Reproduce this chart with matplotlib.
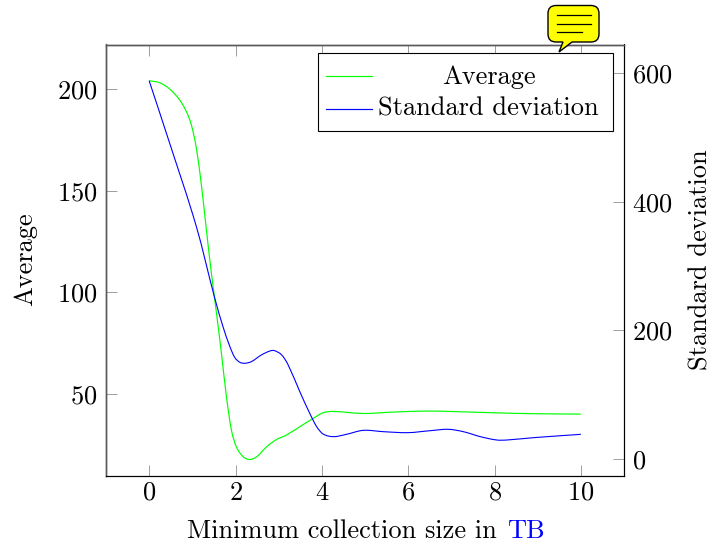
import matplotlib
matplotlib.use("Agg")
import matplotlib.pyplot as plt
from matplotlib.lines import Line2D
from matplotlib.patches import PathPatch, Rectangle
from matplotlib.path import Path

plt.rcParams["font.family"] = ["cmr10", "DejaVu Serif"]
plt.rcParams["axes.formatter.use_mathtext"] = True
plt.rcParams["axes.unicode_minus"] = False

# values
avg_x = [0.0, 0.244, 0.476, 0.708, 0.862, 0.978, 1.094, 1.21, 1.326, 1.442, 1.558, 1.675, 1.79,
         1.906, 2.02, 2.18, 2.33, 2.49, 2.72, 2.95, 3.18, 3.49, 3.8, 4.03, 4.27, 4.96, 5.66,
         6.43, 6.97, 7.98, 8.9, 10.0]
avg_y = [204.1, 203.1, 200.0, 194.6, 188.9, 182.3, 170.8, 152.8, 130.6, 109.3, 90.0, 69.9, 48.6,
         32.2, 24.0, 19.1, 17.8, 19.1, 24.0, 27.6, 29.8, 33.9, 38.0, 40.75, 41.4, 40.4, 41.1,
         41.6, 41.4, 40.75, 40.3, 40.1]
std_x = [0.0, 0.476, 1.094, 1.51, 1.71, 1.87, 1.98, 2.10, 2.22, 2.37, 2.6, 2.8, 2.9, 3.07, 3.22,
         3.49, 3.72, 3.88, 4.03, 4.27, 4.57, 4.96, 5.43, 6.0, 6.5, 6.93, 7.28, 7.67, 8.05, 8.29,
         8.9, 10.0]
std_y = [588.0, 490.7, 361.2, 252.5, 205.8, 174.8, 158.2, 150.4, 148.9, 151.5, 161.8, 168.0, 168.5,
         161.8, 146.3, 104.7, 71.0, 50.3, 38.9, 34.8, 38.4, 44.6, 42.5, 41.0, 44.0, 46.2, 42.5,
         34.8, 29.6, 29.6, 33.2, 38.4]
x_ticks = [0, 2, 4, 6, 8, 10]
left_ticks = [50, 100, 150, 200]
right_ticks = [0, 200, 400, 600]

W, H = 711, 547
FS = 19


def px(x, y):
    # pixel position in the image -> figure fraction
    return x / W, 1 - y / H


def smooth_path(xs, ys):
    # cubic segments through the read points, like "smooth" in pgfplots
    n = len(xs)
    m = []
    for i in range(n):
        a, b = max(i - 1, 0), min(i + 1, n - 1)
        m.append((ys[b] - ys[a]) / (xs[b] - xs[a]))
    verts = [(xs[0], ys[0])]
    codes = [Path.MOVETO]
    for i in range(n - 1):
        d = (xs[i + 1] - xs[i]) / 3
        verts += [(xs[i] + d, ys[i] + m[i] * d), (xs[i + 1] - d, ys[i + 1] - m[i + 1] * d),
                  (xs[i + 1], ys[i + 1])]
        codes += [Path.CURVE4] * 3
    return Path(verts, codes)


fig = plt.figure(figsize=(W / 100, H / 100), dpi=100)
ax = fig.add_axes([106 / W, 1 - 475.5 / H, 518 / W, 431 / H])
ax2 = ax.twinx()

ax.add_patch(PathPatch(smooth_path(avg_x, avg_y), fc="none", ec="#00ff00", lw=0.85))
ax2.add_patch(PathPatch(smooth_path(std_x, std_y), fc="none", ec="#0000ff", lw=0.8))

ax.set_xlim(-1, 11)
ax.set_ylim(9.9, 221.9)
ax2.set_ylim(-25.6, 644.4)

ax.set_xticks(x_ticks)
ax.set_yticks(left_ticks)
ax2.set_yticks(right_ticks)
ax.tick_params(axis="x", direction="in", top=True, length=8, width=0.7, color="0.62",
               labelsize=FS, pad=4)
ax.tick_params(axis="y", direction="in", length=8, width=0.7, color="0.62", labelsize=FS, pad=6)
ax2.tick_params(axis="y", direction="in", length=8, width=0.7, color="0.62", labelsize=FS, pad=6)
for a in (ax, ax2):
    for name, s in a.spines.items():
        s.set_linewidth(0.8)
        if name in ("left", "top"):
            s.set_color("0.35")
            s.set_linewidth(1.0)

# labels
fig.text(*px(25, 259), "Average", rotation=90, ha="center", va="center", fontsize=FS)
fig.text(*px(701, 260), "Standard deviation", rotation=90, ha="center", va="center", fontsize=FS)
fig.text(*px(187, 538), "Minimum collection size in", ha="left", va="baseline", fontsize=FS)
fig.text(*px(507, 538), "TB", ha="left", va="baseline", fontsize=FS, color="#0000ff")

# legend box
x0, y0 = px(318, 131)
x1, y1 = px(613, 53)
fig.add_artist(Rectangle((x0, y0), x1 - x0, y1 - y0, transform=fig.transFigure, fc="white",
                         ec="black", lw=0.8, zorder=5))
for color, yy in (("#00ff00", 75.5), ("#0000ff", 108.5)):
    fig.add_artist(Line2D([326 / W, 372 / W], [1 - yy / H] * 2, transform=fig.transFigure,
                          color=color, lw=0.85, zorder=6))
fig.text(*px(489, 84), "Average", ha="center", va="baseline", fontsize=FS, zorder=6)
fig.text(*px(378, 116), "Standard deviation", ha="left", va="baseline", fontsize=FS, zorder=6)

# yellow speech bubble on top
r = 8
L, R, T, B = 548, 599, 5.5, 42
verts = [(L + r, T), (R - r, T), (R, T), (R, T + r), (R, B - r), (R, B), (R - r, B), (572, B),
         (559, 52), (563, B), (L + r, B), (L, B), (L, B - r), (L, T + r), (L, T), (L + r, T),
         (L + r, T)]
codes = [Path.MOVETO, Path.LINETO, Path.CURVE3, Path.CURVE3, Path.LINETO, Path.CURVE3, Path.CURVE3,
         Path.LINETO, Path.LINETO, Path.LINETO, Path.LINETO, Path.CURVE3, Path.CURVE3, Path.LINETO,
         Path.CURVE3, Path.CURVE3, Path.CLOSEPOLY]
bubble = Path([px(*v) for v in verts], codes)
fig.add_artist(PathPatch(bubble, transform=fig.transFigure, fc="#ffff00", ec="black", lw=1.0,
                         zorder=7))
for yy, xe in ((15, 591), (24, 591), (32, 582)):
    fig.add_artist(Line2D([557 / W, xe / W], [1 - yy / H] * 2, transform=fig.transFigure,
                          color="black", lw=0.9, zorder=8))

fig.savefig("out.png", dpi=100)
